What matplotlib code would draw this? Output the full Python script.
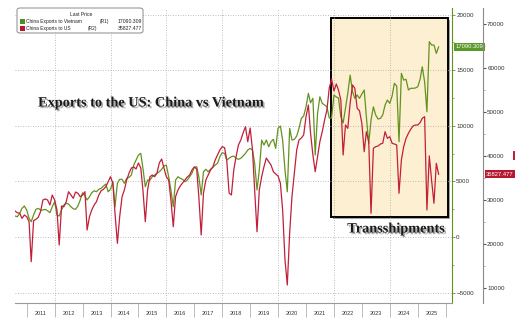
import numpy as np
import pandas as pd
import matplotlib
matplotlib.use('Agg')
import matplotlib.pyplot as plt
import matplotlib.dates as mdates
import matplotlib.patheffects as pe
from matplotlib.patches import Rectangle, FancyBboxPatch

# ---------------- data ----------------
start_month = '2010-08-01'

vietnam = [
    1890, 1830, 2130, 2580, 2790, 2430, 1680, 1380, 1980, 2490, 2580, 2430,
    2430, 2490, 2360, 2190, 2720, 3170, 1980, 1890, 2430, 2880, 3030, 2970,
    2720, 2540, 2490, 2790, 3330, 3980, 3690, 3330, 3620, 3980, 4160, 4070,
    4290, 4380, 4580, 4760, 4070, 4290, 4970, 2720, 4830, 5190, 5190, 4830,
    5280, 5370, 5570, 6470, 6920, 7370, 7520, 6180, 4520, 5120, 5120, 5420,
    5570, 5730, 5870, 6090, 6380, 6470, 5420, 4230, 2720, 5120, 5420, 5280,
    5190, 4970, 5120, 5420, 5730, 6270, 6320, 5420, 3780, 5870, 6090, 5870,
    6090, 6270, 6470, 6630, 7220, 7580, 7520, 6920, 7080, 7220, 7280, 7080,
    6990, 7080, 7280, 7520, 7820, 7970, 7820, 6630, 4230, 6020, 8720, 8270,
    8720, 8120, 8570, 8780, 7970, 9770, 9980, 8720, 6020, 4070, 9770, 8720,
    8780, 9080, 9770, 10670, 10880, 11710, 12920, 12070, 12470, 7370, 11120, 12610,
    12020, 11870, 11710, 10700, 10700, 12770, 12590, 12500, 10820, 10250, 11570, 12920,
    14560, 13060, 12470, 12770, 12470, 12860, 13220, 10820, 8420, 10520, 11710, 10970,
    10610, 10670, 10970, 11870, 12320, 12020, 12680, 13820, 13570, 8570, 14720, 14110,
    14180, 13220, 13370, 13370, 13400, 13510, 14180, 15310, 13960, 11260, 17560, 17260,
    17260, 16510, 17090.309,
]

us = [
    27490, 27100, 26970, 25830, 26580, 26200, 25060, 15980, 25290, 25600, 26060, 27330,
    29990, 30215, 29990, 28850, 31120, 29990, 27720, 19770, 28630, 28470, 29600, 31870,
    31120, 30370, 31800, 31510, 30740, 31120, 31870, 23180, 26200, 27720, 28850, 29600,
    31120, 32100, 32420, 33010, 34140, 35280, 33780, 26970, 20160, 26200, 30740, 32260,
    34530, 36120, 37250, 37480, 37030, 38390, 37250, 32260, 25060, 32260, 35280, 35660,
    35280, 36120, 38390, 39300, 37250, 35280, 34530, 29990, 23930, 30740, 32260, 33170,
    33850, 34530, 35210, 35660, 36800, 37480, 37030, 30740, 22040, 31580, 34530, 35660,
    36800, 37480, 39070, 40200, 41340, 42090, 41860, 39070, 31580, 31120, 36800, 39820,
    42470, 43610, 45200, 46630, 43220, 46330, 41340, 32260, 22790, 32260, 35280, 37550,
    39520, 38680, 37930, 36410, 35890, 35440, 33780, 27720, 16370, 10690, 22500, 30740,
    36120, 41340, 43610, 44060, 44740, 48900, 51550, 45200, 40200, 36410, 39820, 43220,
    45490, 48150, 50420, 55410, 57460, 54730, 56320, 54960, 52690, 40200, 47010, 46260,
    51940, 56090, 55340, 50800, 50260, 47400, 40950, 45490, 43220, 26970, 41720, 42090,
    42250, 42700, 42860, 45490, 43990, 44360, 42860, 42700, 42470, 31510, 39070, 42090,
    43990, 45130, 46040, 46790, 47010, 47010, 47540, 48530, 48900, 27720, 40000, 34500,
    29240, 38320, 35827.477,
]

year_labels = [str(y) for y in range(2011, 2026)]
grid_years = [2012, 2014, 2016, 2018, 2020, 2022, 2024]
left_ticks = [-5000, 0, 5000, 10000, 15000, 20000]
right_ticks = [10000, 20000, 30000, 40000, 50000, 60000, 70000]

series_names = ['China Exports to Vietnam', 'China Exports to US']
axis_tags = ['(R1)', '(R2)']

dates = pd.date_range(start_month, periods=len(vietnam), freq='MS')

GREEN = '#64921f'
RED = '#c21f3a'
W, H = 531, 332

fig = plt.figure(figsize=(W / 100, H / 100), dpi=100)
fig.patch.set_facecolor('white')
ax = fig.add_axes([15 / W, 1 - 303 / H, (452 - 15) / W, (303 - 8) / H])
ax.patch.set_alpha(0)
ax2 = ax.twinx()

ax.set_xlim(pd.Timestamp('2010-08-01'), pd.Timestamp('2026-03-25'))
ax.set_ylim(-5930, 20590)
ax2.set_ylim(6610, 73570)

# highlight box
box = Rectangle((0.723, 0.2925), 0.268, 0.6725, transform=ax.transAxes,
                facecolor='#fdf0d2', edgecolor='black', linewidth=1.4, zorder=0.2,
                path_effects=[pe.SimplePatchShadow(offset=(1.5, -1.5), alpha=0.5), pe.Normal()])
ax.add_patch(box)

# gridlines
for v in left_ticks:
    ax.axhline(v, color='#a8a8a8', lw=0.6, ls=(0, (1, 2)), zorder=0.5)
for y in grid_years:
    ax.axvline(pd.Timestamp(f'{y}-01-01'), color='#a8a8a8', lw=0.6, ls=(0, (1, 2)), zorder=0.5)

ax.plot(dates, vietnam, color=GREEN, lw=0.9, zorder=2)
ax2.plot(dates, us, color=RED, lw=0.9, zorder=2)

# spines
for s in ['top', 'left']:
    ax.spines[s].set_visible(False)
    ax2.spines[s].set_visible(False)
ax2.spines['bottom'].set_visible(False)
ax.spines['bottom'].set_color('#9a9a9a')
ax.spines['bottom'].set_linewidth(0.8)
ax.spines['right'].set_color(GREEN)
ax.spines['right'].set_linewidth(0.8)
ax2.spines['right'].set_position(('outward', 22.3))
ax2.spines['right'].set_color('#8a8a8a')
ax2.spines['right'].set_linewidth(0.8)

# left (green) axis ticks, drawn on the right side
ax.yaxis.tick_right()
ax.set_yticks(left_ticks)
ax.set_yticks([t + 2500 for t in left_ticks[:-1]], minor=True)
ax.tick_params(axis='y', which='major', direction='out', length=2, width=0.6, color=GREEN,
               labelsize=4.5, labelcolor='#333333', pad=1)
ax.tick_params(axis='y', which='minor', direction='out', length=1.2, width=0.5, color=GREEN)
for lab in ax.get_yticklabels():
    lab.set_family('Liberation Sans')

ax2.set_yticks(right_ticks)
ax2.set_yticks([t + 5000 for t in right_ticks[:-1]], minor=True)
ax2.tick_params(axis='y', which='major', direction='out', length=2, width=0.8, color='#555555',
                labelsize=4.5, labelcolor='#333333', pad=1)
ax2.tick_params(axis='y', which='minor', direction='out', length=1.2, width=0.5, color='#8a8a8a')
for lab in ax2.get_yticklabels():
    lab.set_family('Liberation Sans')

# x axis: separators at year starts, labels at mid-year
ax.xaxis.set_major_locator(mdates.YearLocator())
ax.xaxis.set_major_formatter(plt.NullFormatter())
ax.xaxis.set_minor_locator(mdates.MonthLocator(bymonth=7, bymonthday=1))
ax.xaxis.set_minor_formatter(mdates.DateFormatter('%Y'))
ax.tick_params(axis='x', which='major', direction='out', length=10, width=0.6, color='#b0b0b0')
ax.tick_params(axis='x', which='minor', length=0, labelsize=4, labelcolor='#333333', pad=5.5)
for lab in ax.get_xticklabels(minor=True):
    lab.set_family('Liberation Sans')

# last value tags
ax.annotate(f'{vietnam[-1]:.3f}', xy=(1.0, vietnam[-1]), xycoords=('axes fraction', 'data'),
            xytext=(2.5, 0), textcoords='offset points', ha='left', va='center',
            fontsize=4.2, color='white', family='Liberation Sans',
            bbox=dict(boxstyle='square,pad=0.25', fc='#5a9a28', ec='none'), annotation_clip=False)
ax2.annotate(f'{us[-1]:.3f}', xy=(1.0, us[-1]), xycoords=('axes fraction', 'data'),
             xytext=(24.5, 0), textcoords='offset points', ha='left', va='center',
             fontsize=4.2, color='white', family='Liberation Sans',
             bbox=dict(boxstyle='square,pad=0.25', fc='#b8182f', ec='none'), annotation_clip=False)
fig.add_artist(Rectangle((513 / W, 1 - 160 / H), 2 / W, 9 / H, transform=fig.transFigure,
                         color='#c21f3a', lw=0))

# legend (manual)
fig.add_artist(FancyBboxPatch((17 / W, 1 - 33 / H), (143 - 17) / W, (33 - 8) / H,
                              boxstyle='round,pad=0,rounding_size=0.006', transform=fig.transFigure,
                              fc='white', ec='#8a8a8a', lw=0.7, zorder=5))
fig.text(81 / W, 1 - 14.5 / H, 'Last Price', ha='center', va='center', fontsize=3.6,
         color='#222222', family='Liberation Sans', zorder=6)
for i, (name, tag, col, val) in enumerate(zip(series_names, axis_tags, ['#4e8f1e', '#b8172f'],
                                              [vietnam[-1], us[-1]])):
    yc = 21.7 + i * 6.6
    fig.add_artist(Rectangle((20 / W, 1 - (yc + 2.3) / H), 4.6 / W, 4.6 / H,
                             transform=fig.transFigure, color=col, lw=0, zorder=6))
    fig.text(26.5 / W, 1 - yc / H, name, ha='left', va='center', fontsize=3.5,
             color='#222222', family='Liberation Sans', zorder=6)
    fig.text((100 if i == 0 else 88) / W, 1 - yc / H, tag, ha='left', va='center', fontsize=3.5,
             color='#222222', family='Liberation Sans', zorder=6)
    fig.text(142.5 / W, 1 - yc / H, f'{val:.3f}', ha='right', va='center', fontsize=3.7,
             color='#222222', family='Liberation Sans', zorder=6)

# annotations
shadow = [pe.SimplePatchShadow(offset=(1.2, -1.2), shadow_rgbFace='#777777', alpha=0.6), pe.Normal()]
fig.text(151 / W, 1 - 103 / H, 'Exports to the US: China vs Vietnam', ha='center', va='center',
         fontsize=10.3, fontweight='bold', family='Liberation Serif', color='#1a1a1a',
         path_effects=shadow, zorder=7)
fig.text(396 / W, 1 - 229 / H, 'Transshipments', ha='center', va='center',
         fontsize=10.3, fontweight='bold', family='Liberation Serif', color='#1a1a1a',
         path_effects=shadow, zorder=7)

fig.savefig('out.png', dpi=100, facecolor='white')
